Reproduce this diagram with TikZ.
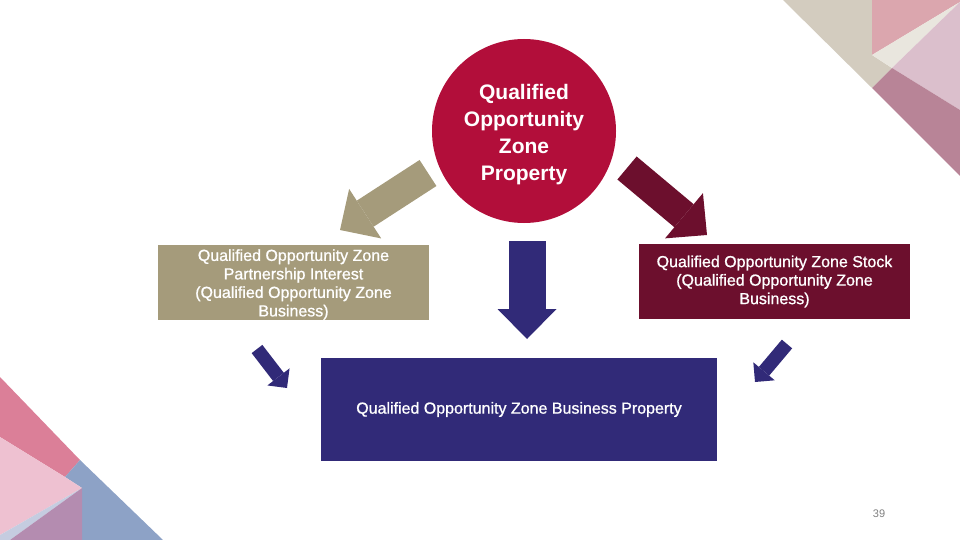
\documentclass[tikz,border=0pt]{standalone}
\usepackage{fontspec}
\setmainfont{Liberation Sans}
\newfontfamily\boxfont[FakeBold=0.9]{Liberation Sans}
\usetikzlibrary{arrows.meta}
\definecolor{qcrimson}{HTML}{B20E3A}
\definecolor{qtan}{HTML}{A59B7B}
\definecolor{qmaroon}{HTML}{6C0F2D}
\definecolor{qnavy}{HTML}{312A78}
\definecolor{cbeige}{HTML}{D3CCBF}
\definecolor{cpink}{HTML}{DBA6AE}
\definecolor{ccream}{HTML}{E9E6DE}
\definecolor{clilac}{HTML}{DBBFCC}
\definecolor{cmauve}{HTML}{B88497}
\definecolor{crose}{HTML}{DB7F98}
\definecolor{cblue}{HTML}{8DA2C6}
\definecolor{cblush}{HTML}{EEC1D1}
\definecolor{cpale}{HTML}{C5CCE0}
\definecolor{cplum}{HTML}{B48CB0}
\tikzset{
  box/.style={rectangle,minimum width=271pt,minimum height=75pt,inner sep=0pt,
    align=center,text=white,font=\boxfont\fontsize{16}{18.5}\selectfont},
  bigarrow/.style={line width=#1,-{Triangle[length=30pt,width=59pt,line width'=0pt]}},
  smallarrow/.style={draw=qnavy,line width=13.5pt,-{Triangle[length=14pt,width=28pt,line width'=0pt]}}
}
\begin{document}
\begin{tikzpicture}[x=1pt,y=-1pt]
    \useasboundingbox (0,0) rectangle (960,540);
    % corner triangles
    \fill[cbeige] (783,0) -- (872,0) -- (872,55) -- (892,68) -- (872,88) -- cycle;
    \fill[cpink] (872,0) -- (960,0) -- (960,2) -- (872,55) -- cycle;
    \fill[ccream] (872,55) -- (960,2) -- (892,68) -- cycle;
    \fill[clilac] (892,68) -- (960,2) -- (960,110) -- cycle;
    \fill[cmauve] (872,88) -- (892,68) -- (960,110) -- (960,176) -- cycle;
    \fill[crose] (0,377) -- (80,460) -- (65,477) -- (0,437) -- cycle;
    \fill[cblue] (80,460) -- (163,540) -- (82,540) -- (82,488) -- (65,477) -- cycle;
    \fill[cblush] (0,437) -- (65,477) -- (82,488) -- (0,535) -- cycle;
    \fill[cpale] (82,488) -- (0,535) -- (0,540) -- (10,540) -- cycle;
    \fill[cplum] (82,488) -- (82,540) -- (10,540) -- cycle;
    % boxes
    \node[circle,fill=qcrimson,minimum size=184pt,inner sep=0pt] (qozp) at (524,131) {};
    \node[align=center,text=white,font=\bfseries\fontsize{21}{27}\selectfont,yshift=-4pt]
        (qozptext) at (qozp.center) {Qualified\\Opportunity\\Zone\\Property};
    \node[box,fill=qtan] (qozpi) at (293.5,282.5) {};
    \node[box,yshift=-2pt] (qozpitext) at (qozpi.center)
        {Qualified Opportunity Zone\\Partnership Interest\\(Qualified Opportunity Zone\\Business)};
    \node[box,fill=qmaroon] (qozs) at (774.5,281.5)
        {Qualified Opportunity Zone Stock\\(Qualified Opportunity Zone\\Business)};
    \node[box,fill=qnavy,minimum width=396pt,minimum height=103pt] (qozbp) at (519,409.5)
        {Qualified Opportunity Zone Business Property};
    \node[text=gray,font=\fontsize{11}{13}\selectfont] (pgno) at (879,514) {39};
    % arrows
    \coordinate (tanA) at (428,173);  \coordinate (tanB) at (340,230);
    \coordinate (marA) at (627,168);  \coordinate (marB) at (707,235);
    \coordinate (navA) at (527,241);  \coordinate (navB) at (527,339);
    \coordinate (lftA) at (257,349);  \coordinate (lftB) at (287,388);
    \coordinate (rgtA) at (787,344);  \coordinate (rgtB) at (755,382);
    \draw[bigarrow=31pt,qtan] (tanA) -- (tanB);
    \draw[bigarrow=30pt,qmaroon] (marA) -- (marB);
    \draw[bigarrow=37pt,qnavy] (navA) -- (navB);
    \draw[smallarrow] (lftA) -- (lftB);
    \draw[smallarrow] (rgtA) -- (rgtB);
\end{tikzpicture}
\end{document}
